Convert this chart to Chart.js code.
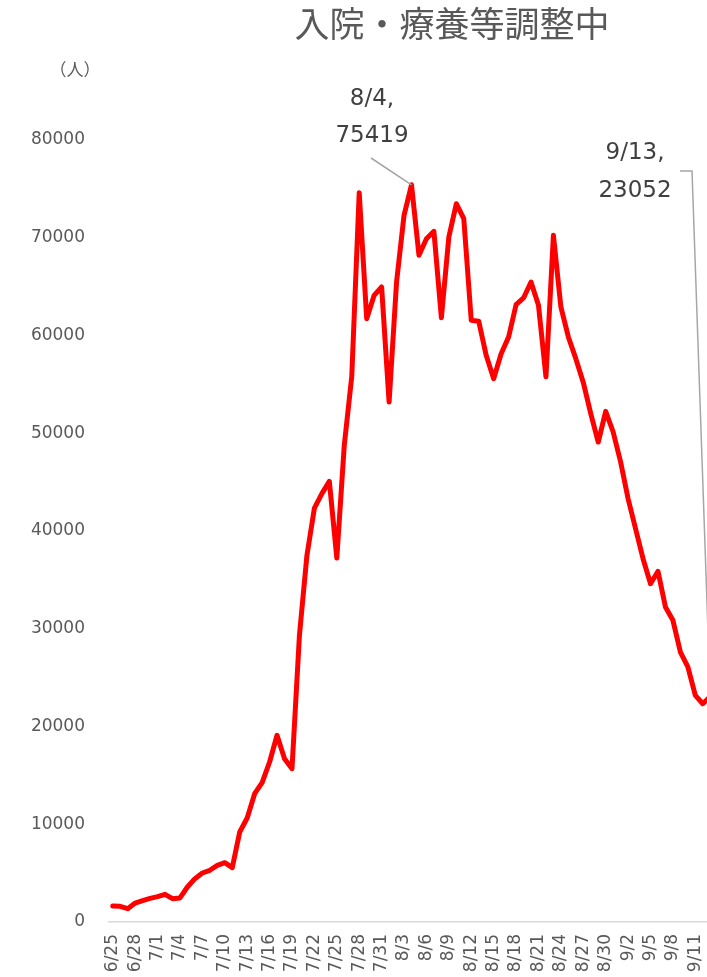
<!DOCTYPE html>
<html>
<head>
<meta charset="utf-8">
<script src="https://cdn.jsdelivr.net/npm/chart.js@4.4.0/dist/chart.umd.min.js"></script>
<style>
    html, body { margin: 0; padding: 0; background: #fff; }
    #wrap { width: 707px; height: 977px; overflow: hidden; }
</style>
</head>
<body>
<div id="wrap"><canvas id="chart" width="720" height="977"></canvas></div>
<script>
// 日付
const dates = [
    '6/25', '6/26', '6/27', '6/28', '6/29', '6/30',
    '7/1', '7/2', '7/3', '7/4', '7/5', '7/6', '7/7', '7/8', '7/9', '7/10',
    '7/11', '7/12', '7/13', '7/14', '7/15', '7/16', '7/17', '7/18', '7/19', '7/20',
    '7/21', '7/22', '7/23', '7/24', '7/25', '7/26', '7/27', '7/28', '7/29', '7/30', '7/31',
    '8/1', '8/2', '8/3', '8/4', '8/5', '8/6', '8/7', '8/8', '8/9', '8/10',
    '8/11', '8/12', '8/13', '8/14', '8/15', '8/16', '8/17', '8/18', '8/19', '8/20',
    '8/21', '8/22', '8/23', '8/24', '8/25', '8/26', '8/27', '8/28', '8/29', '8/30', '8/31',
    '9/1', '9/2', '9/3', '9/4', '9/5', '9/6', '9/7', '9/8', '9/9', '9/10',
    '9/11', '9/12', '9/13'
];

// 入院・療養等調整中（人）
const waiting = [
    1640, 1600, 1360, 1940, 2180, 2420, 2590, 2830, 2390, 2460,
    3580, 4430, 5010, 5290, 5800, 6070, 5560, 9210, 10640, 13130,
    14250, 16370, 19100, 16710, 15680, 29360, 37510, 42350, 43820, 45080,
    37240, 48770, 55800, 74610, 61720, 64110, 64960, 53200, 65470, 72290,
    75419, 68200, 69900, 70660, 61820, 70080, 73480, 71950, 61550, 61450,
    57970, 55580, 58140, 59850, 63150, 63840, 65470, 63090, 55770, 70250,
    62920, 59850, 57630, 55200, 52000, 49100, 52240, 50130, 47060, 43300,
    40230, 37170, 34610, 35880, 32220, 30860, 27620, 26090, 23190, 22330,
    23052
];

const yTicks = [0, 10000, 20000, 30000, 40000, 50000, 60000, 70000, 80000];

// 吹き出しラベル
const calloutDates = ['8/4', '9/13'];

const FONT = "'DejaVu Sans', 'Noto Sans CJK JP', sans-serif";
const CJK = "'Noto Sans CJK JP', sans-serif";

const labelsPlugin = {
    id: 'labelsPlugin',
    afterDraw(chart) {
        const ctx = chart.ctx;
        const xs = chart.scales.x;
        const ys = chart.scales.y;
        ctx.save();

        // タイトル
        ctx.fillStyle = '#595959';
        ctx.font = '35px ' + CJK;
        ctx.textAlign = 'center';
        ctx.textBaseline = 'middle';
        ctx.fillText('入院・療養等調整中', 452, 24);

        // 単位
        ctx.font = '17px ' + CJK;
        ctx.fillText('（人）', 75, 70);

        // 8/4
        let i = dates.indexOf(calloutDates[0]);
        let px = xs.getPixelForValue(i);
        let py = ys.getPixelForValue(waiting[i]);
        ctx.strokeStyle = '#a6a6a6';
        ctx.lineWidth = 1.5;
        ctx.beginPath();
        ctx.moveTo(371, 158);
        ctx.lineTo(px, py);
        ctx.stroke();
        ctx.fillStyle = '#404040';
        ctx.font = '23px ' + FONT;
        ctx.fillText(calloutDates[0] + ',', 372, 99);
        ctx.fillText(String(waiting[i]), 372, 136);

        // 9/13
        i = dates.indexOf(calloutDates[1]);
        px = xs.getPixelForValue(i);
        py = ys.getPixelForValue(waiting[i]);
        ctx.beginPath();
        ctx.moveTo(680, 171);
        ctx.lineTo(692, 171);
        ctx.lineTo(px, py);
        ctx.stroke();
        ctx.fillText(calloutDates[1] + ',', 635, 153);
        ctx.fillText(String(waiting[i]), 635, 191);

        ctx.restore();
    }
};

new Chart(document.getElementById('chart'), {
    type: 'line',
    data: {
        labels: dates,
        datasets: [{
            data: waiting,
            borderColor: '#ff0000',
            borderWidth: 5,
            pointRadius: 0,
            tension: 0,
            borderJoinStyle: 'round',
            borderCapStyle: 'round'
        }]
    },
    options: {
        responsive: false,
        animation: false,
        layout: { padding: { top: 140, right: 6, bottom: 0, left: 0 } },
        plugins: {
            legend: { display: false },
            title: { display: false },
            tooltip: { enabled: false }
        },
        scales: {
            x: {
                offset: true,
                grid: { display: false, drawTicks: false },
                border: { display: true, color: '#d9d9d9', width: 1.5 },
                ticks: {
                    autoSkip: false,
                    minRotation: 90,
                    maxRotation: 90,
                    padding: 12,
                    color: '#595959',
                    font: { family: FONT, size: 17 },
                    callback: function (val, index) {
                        return index % 3 === 0 ? this.getLabelForValue(val) : '';
                    }
                },
                afterFit(scale) {
                    scale.height = 55;
                    scale.paddingRight = 0;
                    scale.paddingLeft = 0;
                }
            },
            y: {
                min: 0,
                max: 80000,
                grid: { display: false, drawTicks: false },
                border: { display: false },
                afterBuildTicks(scale) {
                    scale.ticks = yTicks.map(v => ({ value: v }));
                },
                ticks: {
                    padding: 24,
                    color: '#595959',
                    font: { family: FONT, size: 17 },
                    callback: v => String(v)
                },
                afterFit(scale) {
                    scale.width = 109;
                    scale.paddingTop = 0;
                    scale.paddingBottom = 0;
                }
            }
        }
    },
    plugins: [labelsPlugin]
});
</script>
</body>
</html>
